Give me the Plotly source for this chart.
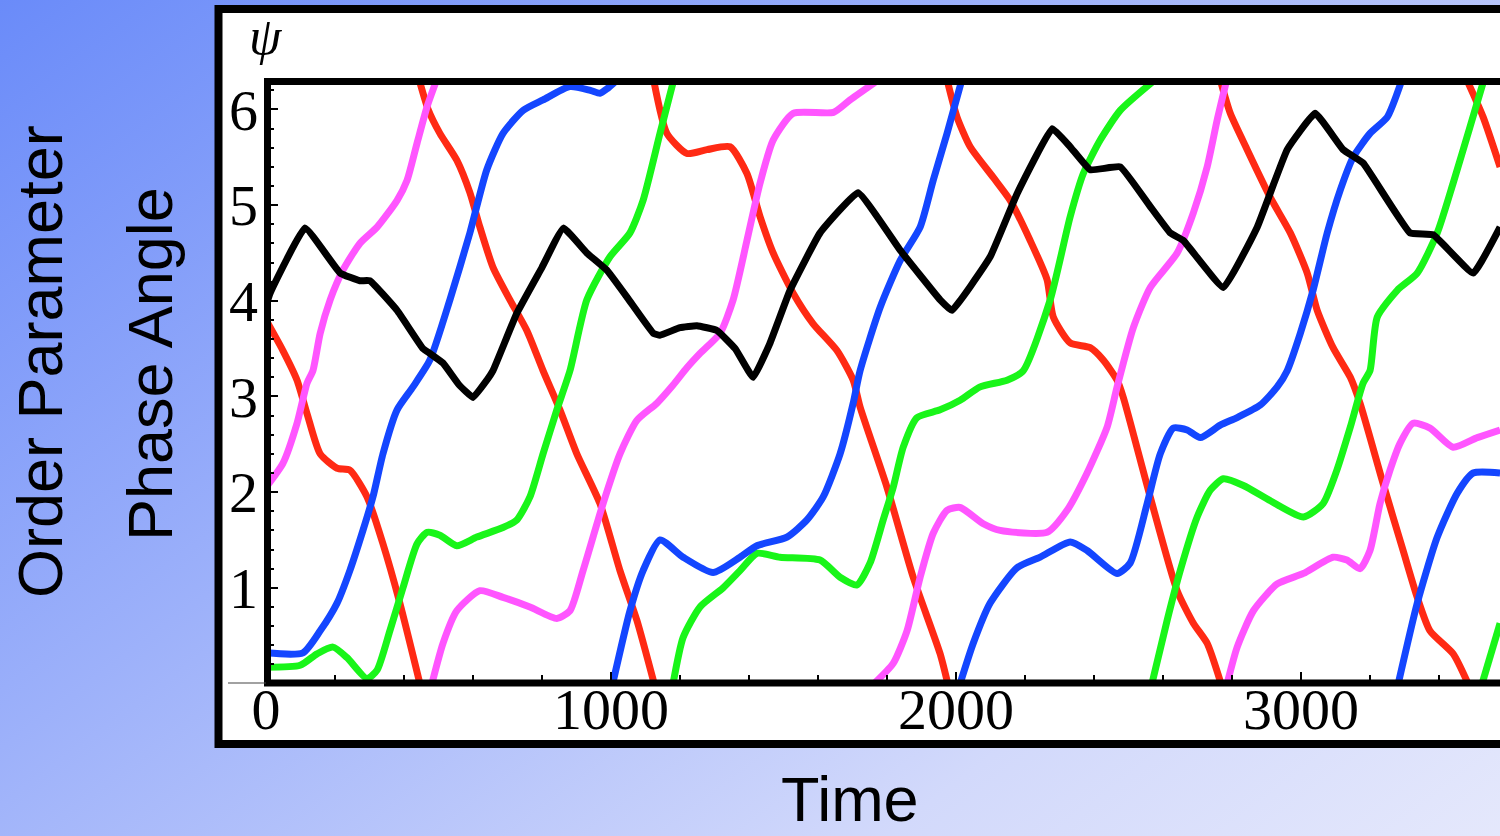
import base64
import plotly.graph_objects as go

TWO_PI = 6.283

# ---- data (time, phase angle); None separates wrap-around segments ----
black_t = [0, 12, 113, 215, 272, 301, 380, 455, 475, 513, 560, 600, 640, 658, 727, 800, 862, 930, 988, 1050, 1123,
           1142, 1200, 1249, 1307, 1360, 1412, 1460, 1519, 1606, 1716, 1838, 1954, 1988, 2099, 2177, 2279, 2331,
           2389, 2476, 2560, 2621, 2659, 2775, 2873, 2960, 3041, 3122, 3180, 3316, 3383, 3499, 3577]
black_y = [3.95, 4.08, 4.76, 4.29, 4.21, 4.21, 3.90, 3.50, 3.45, 3.35, 3.12, 2.99, 3.17, 3.27, 3.87, 4.35, 4.76,
           4.50, 4.32, 4.02, 3.66, 3.64, 3.72, 3.74, 3.69, 3.50, 3.20, 3.55, 4.11, 4.71, 5.13, 4.53, 4.01, 3.90,
           4.46, 5.12, 5.80, 5.61, 5.37, 5.40, 5.00, 4.71, 4.63, 4.14, 4.77, 5.58, 5.96, 5.58, 5.44, 4.71, 4.69,
           4.29, 4.77]

red_t = [0, 49, 90, 119, 157, 206, 243, 293, 339, 388, 446, None,
         446, 470, 504, 553, 591, 620, 658, 707, 756, 803, 852, 901, 968, 1026, 1075, 1125, None,
         1125, 1162, 1220, 1278, 1345, 1394, 1432, 1470, 1528, 1586, 1655, 1702, 1722, 1800, 1876, 1954, 1976, None,
         1976, 2003, 2041, 2108, 2157, 2215, 2264, 2282, 2331, 2389, 2427, 2467, 2485, 2563, 2641, 2688, 2728, 2768,
         None,
         2768, 2795, 2844, 2911, 2969, 3018, 3047, 3093, 3143, 3171, 3238, 3296, 3337, 3374, 3441, 3484, None,
         3484, 3528, 3577]
red_y = [3.80, 3.48, 3.17, 2.82, 2.40, 2.25, 2.23, 1.95, 1.46, 0.84, 0.0, None,
         TWO_PI, 6.00, 5.75, 5.47, 5.13, 4.77, 4.35, 4.01, 3.69, 3.27, 2.86, 2.40, 1.88, 1.18, 0.66, 0.0, None,
         TWO_PI, 5.75, 5.54, 5.58, 5.61, 5.33, 4.88, 4.50, 4.08, 3.76, 3.48, 3.17, 2.89, 2.05, 1.11, 0.31, 0.0, None,
         TWO_PI, 5.92, 5.61, 5.29, 5.05, 4.63, 4.22, 3.83, 3.56, 3.51, 3.38, 3.17, 2.99, 1.95, 0.97, 0.63, 0.42, 0.0,
         None,
         TWO_PI, 5.96, 5.58, 5.08, 4.71, 4.29, 3.90, 3.51, 3.20, 2.93, 2.09, 1.39, 0.90, 0.55, 0.31, 0.0, None,
         TWO_PI, 5.92, 5.40]

blue_t = [0, 107, 157, 206, 243, 281, 310, 339, 380, 426, 475, 533, 591, 640, 687, 745, 803, 881, 940, 968, 990,
          1010, None,
          1005, 1055, 1093, 1142, 1209, 1296, 1374, 1423, 1510, 1568, 1615, 1664, 1702, 1722, 1780, 1838, 1896,
          1934, 1974, 2015, None,
          2012, 2050, 2099, 2177, 2244, 2331, 2380, 2467, 2505, 2554, 2592, 2630, 2670, 2708, 2766, 2815, 2882,
          2931, 2960, 2998, 3035, 3076, 3114, 3151, 3200, 3250, 3290, None,
          3282, 3337, 3395, 3453, 3499, 3577]
blue_y = [0.32, 0.32, 0.55, 0.84, 1.18, 1.60, 1.95, 2.40, 2.86, 3.10, 3.38, 4.01, 4.71, 5.37, 5.75, 5.99, 6.10,
          6.24, 6.20, 6.17, 6.22, TWO_PI, None,
          0.0, 0.76, 1.18, 1.50, 1.32, 1.16, 1.32, 1.44, 1.53, 1.71, 1.95, 2.40, 2.93, 3.27, 3.93, 4.42, 4.77,
          5.26, 5.75, TWO_PI, None,
          0.0, 0.42, 0.84, 1.21, 1.32, 1.48, 1.39, 1.15, 1.26, 1.88, 2.40, 2.67, 2.65, 2.57, 2.70, 2.78, 2.91,
          3.10, 3.27, 3.66, 4.11, 4.71, 5.16, 5.50, 5.75, 5.92, TWO_PI, None,
          0.0, 0.84, 1.53, 1.99, 2.20, 2.20]

green_t = [0, 99, 148, 194, 235, 293, 322, 359, 397, 438, 467, 504, 553, 611, 687, 727, 765, 803, 843, 881, 930,
           997, 1055, 1093, 1142, 1180, None,
           1180, 1209, 1258, 1325, 1374, 1423, 1490, 1606, 1664, 1713, 1751, 1789, 1818, 1847, 1887, 1954, 2012,
           2070, 2148, 2195, 2273, 2331, 2369, 2418, 2476, 2568, None,
           2568, 2612, 2650, 2699, 2737, 2775, 2833, 2911, 3007, 3064, 3104, 3143, 3180, 3200, 3221, 3279, 3337,
           3395, 3441, 3490, 3528, None,
           3525, 3577]
green_y = [0.17, 0.19, 0.31, 0.38, 0.27, 0.05, 0.14, 0.55, 1.00, 1.46, 1.58, 1.55, 1.44, 1.53, 1.63, 1.71, 1.95,
           2.40, 2.86, 3.27, 4.01, 4.46, 4.71, 5.05, 5.75, TWO_PI, None,
           0.0, 0.48, 0.80, 1.00, 1.18, 1.36, 1.32, 1.29, 1.11, 1.03, 1.26, 1.71, 2.05, 2.47, 2.78, 2.86, 2.96,
           3.10, 3.17, 3.27, 4.01, 4.88, 5.33, 5.68, 5.99, TWO_PI, None,
           0.0, 0.66, 1.18, 1.74, 2.02, 2.14, 2.07, 1.91, 1.74, 1.88, 2.23, 2.68, 3.14, 3.27, 3.83, 4.11, 4.29,
           4.71, 5.23, 5.82, TWO_PI, None,
           0.0, 0.63]

magenta_t = [0, 49, 90, 119, 136, 157, 186, 223, 272, 322, 380, 409, 438, 467, 492, None,
             481, 513, 553, 620, 687, 765, 843, 881, 919, 977, 1026, 1075, 1133, 1180, 1220, 1258, 1316, 1354,
             1394, 1432, 1470, 1528, 1645, 1693, 1765, None,
             1763, 1818, 1858, 1896, 1934, 1974, 2012, 2079, 2128, 2264, 2322, 2380, 2438, 2467, 2514, 2563,
             2641, 2688, 2728, 2757, 2783, None,
             2786, 2815, 2862, 2931, 3007, 3093, 3133, 3171, 3200, 3229, 3258, 3287, 3325, 3374, 3441, 3511, 3577]
magenta_y = [2.05, 2.30, 2.72, 3.14, 3.27, 3.66, 4.01, 4.32, 4.60, 4.77, 5.05, 5.26, 5.65, 6.03, TWO_PI, None,
             0.0, 0.42, 0.76, 0.97, 0.90, 0.80, 0.68, 0.76, 1.18, 1.88, 2.40, 2.75, 2.93, 3.12, 3.30, 3.45, 3.66,
             4.01, 4.63, 5.23, 5.68, 5.96, 5.97, 6.10, TWO_PI, None,
             0.0, 0.21, 0.55, 1.11, 1.57, 1.81, 1.84, 1.67, 1.60, 1.58, 1.81, 2.20, 2.68, 3.10, 3.72, 4.14,
             4.50, 4.92, 5.40, 5.89, TWO_PI, None,
             0.0, 0.38, 0.76, 1.04, 1.15, 1.32, 1.29, 1.20, 1.39, 1.88, 2.23, 2.51, 2.72, 2.67, 2.47, 2.57, 2.65]

x_tick_labels = ["0", "1000", "2000", "3000"]
y_tick_labels = ["1", "2", "3", "4", "5", "6"]

# ---- geometry (pixels of the 1500x836 page) ----
W, H = 1500, 836
def px(x):
    return x / W
def py(y):
    return (H - y) / H

X_LEFT, X_RIGHT = 266, 1500
Y_BOT, Y_TOP = 683, 82.4
T_MAX = (X_RIGHT - X_LEFT) / 0.345

fig = go.Figure()
series = [
    (red_t, red_y, "#ff2a14", 0.6),
    (green_t, green_y, "#19f519", 0.6),
    (blue_t, blue_y, "#1446ff", 0.6),
    (magenta_t, magenta_y, "#ff55ff", 0.6),
    (black_t, black_y, "#000000", 0.3),
]
for t, y, c, sm in series:
    fig.add_trace(go.Scatter(x=t, y=y, mode="lines", connectgaps=False,
                             line=dict(color=c, width=7, shape="spline", smoothing=sm),
                             hoverinfo="skip", showlegend=False))

svg = ("<svg xmlns='http://www.w3.org/2000/svg' width='1500' height='836' viewBox='0 0 1500 836' "
       "preserveAspectRatio='none'><defs><linearGradient id='g' gradientUnits='userSpaceOnUse' "
       "x1='0' y1='0' x2='1200' y2='1600'>"
       "<stop offset='0' stop-color='#6a8bf9'/><stop offset='0.3' stop-color='#9db1fa'/>"
       "<stop offset='0.6' stop-color='#d2d9fb'/><stop offset='0.85' stop-color='#ebedfc'/>"
       "<stop offset='1' stop-color='#f5f5fd'/></linearGradient></defs>"
       "<rect width='1500' height='836' fill='url(#g)'/></svg>")
src = "data:image/svg+xml;base64," + base64.b64encode(svg.encode()).decode()

tick_font = dict(family="Liberation Serif", size=58, color="black")
label_font = dict(family="Liberation Sans, Arial", size=63, color="black")

fig.update_layout(
    width=W, height=H,
    margin=dict(l=0, r=0, t=0, b=0, pad=0, autoexpand=False),
    paper_bgcolor="#b0bff9",
    plot_bgcolor="white",
    images=[dict(source=src, xref="paper", yref="paper", x=0, y=1, sizex=1, sizey=1,
                 xanchor="left", yanchor="top", sizing="stretch", layer="below")],
    xaxis=dict(domain=[px(X_LEFT), 1.0], range=[0, T_MAX], tick0=0, dtick=1000, tickmode="linear",
               ticks="inside", ticklen=11, tickwidth=2, tickcolor="black",
               minor=dict(dtick=200, tick0=0, ticks="inside", ticklen=8, tickwidth=1.5, tickcolor="black"),
               showgrid=False, zeroline=False, showline=False,
               tickfont=tick_font, ticklabelstandoff=-13),
    yaxis=dict(domain=[py(Y_BOT), py(Y_TOP)], range=[0.005, TWO_PI], tick0=0, dtick=1,
               tickmode="linear",
               ticks="inside", ticklen=12, tickwidth=2, tickcolor="black",
               minor=dict(dtick=0.2, tick0=0, ticks="inside", ticklen=8, tickwidth=1.5, tickcolor="black"),
               showgrid=False, zeroline=False, showline=False,
               tickfont=tick_font, ticklabelstandoff=7),
    shapes=[
        # white panel with thick black border
        dict(type="rect", xref="paper", yref="paper", x0=px(218.5), x1=px(1520), y0=py(744), y1=py(9),
             fillcolor="white", line=dict(color="black", width=8), layer="below"),
        # frame around the plot area
        dict(type="rect", xref="paper", yref="paper", x0=px(267.5), x1=px(1530), y0=py(683), y1=py(81.5),
             fillcolor="rgba(0,0,0,0)", line=dict(color="black", width=7), layer="above"),
        # axis stub left of the frame
        dict(type="line", xref="paper", yref="paper", x0=px(228), x1=px(266), y0=py(683), y1=py(683),
             line=dict(color="#444444", width=1.2), layer="above"),
    ],
    annotations=[
        dict(text="<i>ψ</i>", xref="paper", yref="paper", x=px(266), y=py(36), showarrow=False,
             font=dict(family="Liberation Serif", size=52, color="black"), xanchor="center", yanchor="middle"),
        dict(text="Order Parameter", xref="paper", yref="paper", x=px(40), y=py(362), showarrow=False,
             textangle=-90, font=label_font, xanchor="center", yanchor="middle"),
        dict(text="Phase Angle", xref="paper", yref="paper", x=px(150), y=py(364), showarrow=False,
             textangle=-90, font=label_font, xanchor="center", yanchor="middle"),
        dict(text="Time", xref="paper", yref="paper", x=px(850), y=py(799), showarrow=False,
             font=label_font, xanchor="center", yanchor="middle"),
    ],
)

fig.write_html("out.html", config={"displayModeBar": False},
               post_script="document.body.style.margin='0';")
